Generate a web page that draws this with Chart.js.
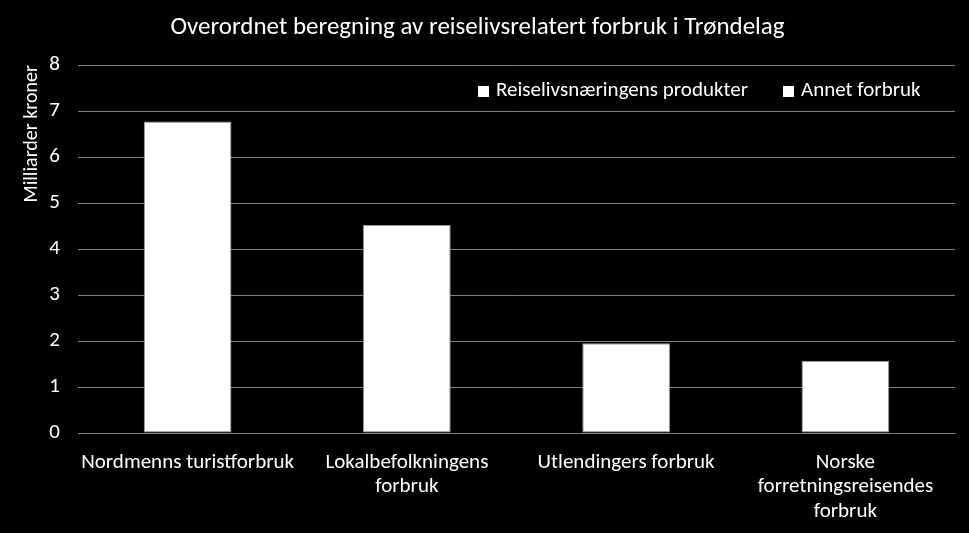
<!DOCTYPE html>
<html>
<head>
<meta charset="utf-8">
<script src="https://cdn.jsdelivr.net/npm/chart.js@4/dist/chart.umd.min.js"></script>
<style>
  html, body { margin: 0; padding: 0; background: #000; }
  #wrap { width: 969px; height: 533px; }
</style>
</head>
<body>
<div id="wrap"><canvas id="chart" width="969" height="533"></canvas></div>
<script>
const categories = [
    'Nordmenns turistforbruk',
    ['Lokalbefolkningens', 'forbruk'],
    'Utlendingers forbruk',
    ['Norske', 'forretningsreisendes', 'forbruk'],
];
const seriesNames = ['Reiselivsnæringens produkter', 'Annet forbruk'];
const produkter = [6.77, 4.52, 1.95, 1.57];
const annet = [0, 0, 0, 0];
const yTicks = [0, 1, 2, 3, 4, 5, 6, 7, 8];

const FONT = 'Carlito, Calibri, Lato, sans-serif';

// legend drawn inside the plot area, top right (like the Excel original)
const insideLegend = {
    id: 'insideLegend',
    afterDraw(chart) {
        const { ctx, chartArea } = chart;
        ctx.save();
        ctx.font = '21px ' + FONT;
        ctx.textBaseline = 'middle';
        const box = 11, gapText = 7, gapItem = 35;
        const items = chart.data.datasets.map((ds) => ({ label: ds.label, w: ctx.measureText(ds.label).width }));
        const total = items.reduce((s, it) => s + box + gapText + it.w, 0) + gapItem * (items.length - 1);
        let x = Math.round(chartArea.right - 34 - total);
        const y = Math.round(chartArea.top + 26);
        items.forEach((it) => {
            ctx.fillStyle = '#ffffff';
            ctx.fillRect(Math.round(x), y - 5, box, box);
            ctx.fillText(it.label, x + box + gapText, y);
            x += box + gapText + it.w + gapItem;
        });
        ctx.restore();
    },
};

new Chart(document.getElementById('chart'), {
    type: 'bar',
    data: {
        labels: categories,
        datasets: [{
            label: seriesNames[0],
            data: produkter,
            backgroundColor: '#ffffff',
            borderColor: '#9a9a9a',
            borderWidth: 1,
            borderSkipped: false,
        }, {
            label: seriesNames[1],
            data: annet,
            backgroundColor: '#ffffff',
            borderWidth: 0,
        }],
    },
    options: {
        responsive: false,
        animation: false,
        categoryPercentage: 0.8,
        barPercentage: 0.5,
        layout: { padding: { left: 0, right: 14, top: 0, bottom: 0 } },
        plugins: {
            legend: { display: false },
            tooltip: { enabled: false },
            title: {
                display: true,
                text: 'Overordnet beregning av reiselivsrelatert forbruk i Trøndelag',
                color: '#ffffff',
                font: { family: FONT, size: 25, weight: 'normal', lineHeight: 1.2 },
                padding: { top: 13, bottom: 22 },
            },
        },
        scales: {
            x: {
                stacked: true,
                afterFit(scale) { scale.height = 100; },
                grid: { display: false, drawTicks: false },
                border: { display: true, color: '#808080' },
                ticks: {
                    color: '#ffffff',
                    font: { family: FONT, size: 21, lineHeight: 1.167 },
                    padding: 17,
                    maxRotation: 0,
                    autoSkip: false,
                },
            },
            y: {
                stacked: true,
                min: 0,
                max: 8,
                afterBuildTicks(scale) {
                    scale.ticks = yTicks.map((v) => ({ value: v }));
                },
                afterFit(scale) { scale.width = 78; },
                grid: { color: '#808080', drawTicks: false },
                border: { display: false },
                ticks: {
                    color: '#ffffff',
                    font: { family: FONT, size: 21 },
                    padding: 18,
                },
                title: {
                    display: true,
                    text: 'Milliarder kroner',
                    align: 'end',
                    color: '#ffffff',
                    font: { family: FONT, size: 20, lineHeight: 1.2 },
                    padding: { top: 20, bottom: 0 },
                },
            },
        },
    },
    plugins: [insideLegend],
});
</script>
</body>
</html>
